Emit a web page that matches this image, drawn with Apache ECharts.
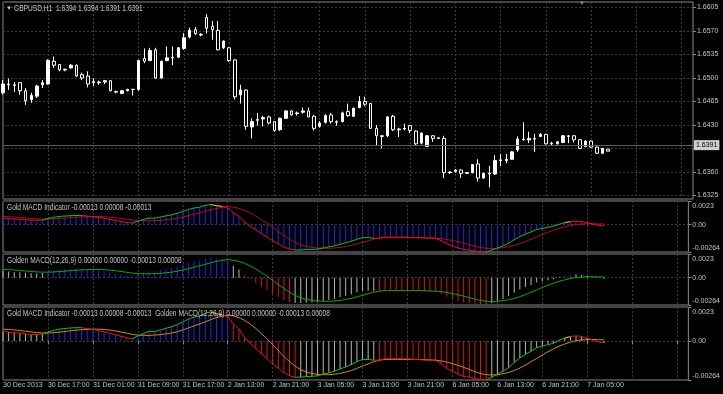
<!DOCTYPE html>
<html><head><meta charset="utf-8">
<script src="https://cdn.jsdelivr.net/npm/echarts@6/dist/echarts.min.js"></script>
<style>html,body{margin:0;padding:0;background:#000;}#c{width:723px;height:394px;}</style>
</head><body><div id="c"></div><script>
// ---------- data ----------
const timeLabels = ['30 Dec 2013','30 Dec 17:00','31 Dec 01:00','31 Dec 09:00','31 Dec 17:00','2 Jan 13:00','2 Jan 21:00','3 Jan 05:00','3 Jan 13:00','3 Jan 21:00','6 Jan 05:00','6 Jan 13:00','6 Jan 21:00','7 Jan 05:00'];
const priceTicks = [1.6325,1.6360,1.6395,1.6430,1.6465,1.6500,1.6535,1.6570,1.6605];
const indTicks = [-0.00264, 0, 0.0023];
const indTickLabels = ['-0.00264','0.00','0.0023'];
const lastPrice = 1.6391;
const mainTitle = 'GBPUSD,H1  1.6394 1.6394 1.6391 1.6391';
const panelTitles = ['Gold MACD Indicator -0.00013 0.00008 -0.00013',
  'Golden MACD(12,26,9) 0.00000 0.00000 -0.00013 0.00008',
  'Gold MACD Indicator -0.00013 0.00008 -0.00013  Golden MACD(12,26,9) 0.00000 0.00000 -0.00013 0.00008'];

const openP = [1.6478,1.6490,1.6490,1.6493,1.6481,1.6468,1.6473,1.6490,1.6491,1.6525,
1.6520,1.6512,1.6515,1.6519,1.6505,1.6503,1.6495,1.6493,1.6494,1.6496,
1.6480,1.6477,1.6481,1.6483,1.6483,1.6529,1.6526,1.6542,1.6500,1.6526,
1.6530,1.6531,1.6544,1.6561,1.6572,1.6565,1.6590,1.6577,1.6571,1.6545,
1.6545,1.6527,1.6475,1.6482,1.6427,1.6437,1.6439,1.6442,1.6435,1.6423,
1.6440,1.6451,1.6447,1.6449,1.6451,1.6443,1.6428,1.6434,1.6445,1.6435,
1.6435,1.6450,1.6443,1.6456,1.6465,1.6462,1.6425,1.6414,1.6414,1.6443,
1.6423,1.6424,1.6429,1.6421,1.6403,1.6398,1.6414,1.6411,1.6410,1.6359,
1.6361,1.6363,1.6358,1.6359,1.6372,1.6351,1.6358,1.6357,1.6377,1.6377,
1.6379,1.6393,1.6409,1.6408,1.6410,1.6413,1.6416,1.6402,1.6402,1.6404,
1.6414,1.6414,1.6408,1.6398,1.6406,1.6397,1.6388,1.6394];
const highP = [1.6497,1.6499,1.6494,1.6494,1.6485,1.6478,1.6490,1.6497,1.6528,1.6532,
1.6521,1.6514,1.6521,1.6520,1.6508,1.6510,1.6500,1.6496,1.6497,1.6497,
1.6481,1.6482,1.6484,1.6484,1.6527,1.6544,1.6545,1.6545,1.6526,1.6547,
1.6547,1.6546,1.6567,1.6575,1.6576,1.6567,1.6595,1.6585,1.6585,1.6556,
1.6546,1.6528,1.6490,1.6483,1.6440,1.6448,1.6444,1.6444,1.6436,1.6441,
1.6452,1.6452,1.6450,1.6456,1.6456,1.6445,1.6436,1.6446,1.6448,1.6437,
1.6450,1.6462,1.6456,1.6473,1.6472,1.6463,1.6430,1.6415,1.6443,1.6445,
1.6426,1.6432,1.6430,1.6422,1.6419,1.6415,1.6415,1.6412,1.6414,1.6361,
1.6364,1.6364,1.6360,1.6372,1.6379,1.6359,1.6369,1.6385,1.6387,1.6387,
1.6391,1.6413,1.6434,1.6420,1.6417,1.6418,1.6417,1.6405,1.6406,1.6415,
1.6415,1.6415,1.6409,1.6407,1.6407,1.6398,1.6396,1.6394];
const lowP = [1.6475,1.6482,1.6479,1.6475,1.6460,1.6463,1.6470,1.6485,1.6490,1.6515,
1.6510,1.6510,1.6514,1.6502,1.6497,1.6486,1.6488,1.6490,1.6491,1.6480,
1.6477,1.6476,1.6480,1.6474,1.6481,1.6522,1.6525,1.6499,1.6499,1.6525,
1.6519,1.6530,1.6542,1.6559,1.6564,1.6562,1.6566,1.6557,1.6541,1.6543,
1.6524,1.6468,1.6462,1.6423,1.6410,1.6429,1.6428,1.6431,1.6420,1.6421,
1.6439,1.6444,1.6444,1.6447,1.6442,1.6422,1.6426,1.6432,1.6432,1.6429,
1.6434,1.6442,1.6442,1.6455,1.6458,1.6424,1.6400,1.6395,1.6412,1.6421,
1.6412,1.6422,1.6418,1.6400,1.6401,1.6397,1.6405,1.6409,1.6351,1.6357,
1.6359,1.6351,1.6357,1.6358,1.6346,1.6350,1.6337,1.6356,1.6369,1.6373,
1.6378,1.6390,1.6407,1.6403,1.6390,1.6412,1.6401,1.6399,1.6401,1.6403,
1.6403,1.6404,1.6394,1.6397,1.6396,1.6387,1.6387,1.6391];
const closeP = [1.6491,1.6491,1.6489,1.6481,1.6466,1.6474,1.6488,1.6493,1.6526,1.6519,
1.6512,1.6513,1.6519,1.6503,1.6500,1.6491,1.6493,1.6494,1.6496,1.6481,
1.6479,1.6481,1.6483,1.6483,1.6526,1.6525,1.6541,1.6500,1.6525,1.6530,
1.6531,1.6545,1.6560,1.6571,1.6566,1.6564,1.6574,1.6572,1.6542,1.6555,
1.6526,1.6472,1.6482,1.6428,1.6435,1.6438,1.6441,1.6433,1.6422,1.6440,
1.6451,1.6445,1.6448,1.6451,1.6442,1.6425,1.6433,1.6444,1.6435,1.6434,
1.6448,1.6444,1.6455,1.6465,1.6461,1.6425,1.6414,1.6413,1.6442,1.6423,
1.6424,1.6425,1.6422,1.6402,1.6418,1.6414,1.6410,1.6410,1.6359,1.6360,
1.6363,1.6358,1.6359,1.6371,1.6351,1.6358,1.6357,1.6377,1.6378,1.6379,
1.6390,1.6409,1.6408,1.6410,1.6409,1.6416,1.6402,1.6403,1.6405,1.6414,
1.6413,1.6408,1.6395,1.6406,1.6397,1.6388,1.6395,1.6391];

const macd = [0.00065,0.00060,0.00056,0.00053,0.00048,0.00044,0.00044,0.00046,0.00060,0.00072,
0.00080,0.00084,0.00088,0.00090,0.00090,0.00084,0.00078,0.00070,0.00063,0.00053,
0.00042,0.00032,0.00023,0.00015,0.00035,0.00050,0.00066,0.00063,0.00075,0.00086,
0.00096,0.00110,0.00128,0.00148,0.00162,0.00170,0.00188,0.00196,0.00184,0.00178,
0.00165,0.00115,0.00080,0.00025,-0.00015,-0.00050,-0.00085,-0.00120,-0.00155,-0.00185,
-0.00215,-0.00235,-0.00245,-0.00245,-0.00240,-0.00240,-0.00235,-0.00225,-0.00215,-0.00205,
-0.00190,-0.00175,-0.00160,-0.00140,-0.00125,-0.00125,-0.00130,-0.00130,-0.00120,-0.00120,
-0.00120,-0.00120,-0.00120,-0.00125,-0.00125,-0.00130,-0.00130,-0.00130,-0.00155,-0.00185,
-0.00205,-0.00225,-0.00240,-0.00245,-0.00255,-0.00260,-0.00264,-0.00245,-0.00225,-0.00205,
-0.00180,-0.00145,-0.00115,-0.00090,-0.00070,-0.00045,-0.00035,-0.00025,-0.00015,0.00005,
0.00020,0.00030,0.00035,0.00030,0.00020,0.00005,-0.00005,-0.00013];
const signal = [0.00080,0.00078,0.00075,0.00071,0.00066,0.00061,0.00057,0.00054,0.00054,0.00056,
0.00060,0.00064,0.00069,0.00073,0.00076,0.00078,0.00080,0.00080,0.00078,0.00074,
0.00068,0.00061,0.00053,0.00045,0.00040,0.00038,0.00038,0.00040,0.00043,0.00048,
0.00054,0.00063,0.00074,0.00088,0.00102,0.00115,0.00130,0.00145,0.00158,0.00168,
0.00176,0.00170,0.00158,0.00140,0.00115,0.00085,0.00050,0.00015,-0.00025,-0.00065,
-0.00105,-0.00140,-0.00170,-0.00195,-0.00210,-0.00220,-0.00225,-0.00228,-0.00228,-0.00225,
-0.00220,-0.00210,-0.00200,-0.00185,-0.00170,-0.00155,-0.00140,-0.00130,-0.00125,-0.00125,
-0.00125,-0.00125,-0.00125,-0.00125,-0.00125,-0.00126,-0.00128,-0.00130,-0.00135,-0.00143,
-0.00153,-0.00165,-0.00178,-0.00193,-0.00208,-0.00220,-0.00228,-0.00230,-0.00228,-0.00222,
-0.00213,-0.00200,-0.00183,-0.00163,-0.00140,-0.00118,-0.00095,-0.00073,-0.00053,-0.00035,
-0.00020,-0.00008,0.00002,0.00007,0.00010,0.00010,0.00009,0.00008];

// colour runs: [code, number of bars]
const hist3Runs = [['w',8],['b',33],['w',2],['r',9],['w',15],['r',20],['w',13],['b',2],['w',6]];
const hist4Runs = [['w',8],['b',33],['r',12],['w',14],['r',20],['w',21]];
const macdLineRuns = [['r',8],['g',7],['r',9],['g',14],['y',2],['r',13],['g',14],['r',20],['g',14],['y',1],['r',6]];

// ---------- styling ----------
const FONT = "'Liberation Sans',Arial,sans-serif";
const AXFS = 7;
const TXT = '#c4c4c4';
const BORDER = '#8a8a8a';
const GRIDLINE = '#3e3e3e';
const histPalette = {w:'#b8b8b8', b:'#2626e6', r:'#d81818'};
const linePalette = {g:'#1fb81f', r:'#e81414', y:'#e6e600'};
const N = 123;
const cats = Array.from({length:N}, (_, i) => String(i));

function expand(runs){ const out=[]; runs.forEach(([c,n])=>{for(let k=0;k<n;k++) out.push(c);}); return out; }
function pieces(runs){ const p=[]; let s=0; runs.forEach(([c,n])=>{ p.push({gt:s-1, lte:s+n-1, color:linePalette[c]}); s+=n; }); return p; }
const hist3 = expand(hist3Runs), hist4 = expand(hist4Runs);
const candles = openP.map((o,i)=>[o, closeP[i], lowP[i], highP[i]]);

const gridDefs = [{top:2,height:197},{top:201,height:51},{top:254,height:51},{top:307,height:73}];
const grid = gridDefs.map(g=>({left:3, right:30, top:g.top, height:g.height, show:true, borderColor:BORDER, borderWidth:1, backgroundColor:'transparent'}));

const labelBase = {align:'left', margin:2, color:TXT, fontSize:AXFS, fontFamily:FONT};
const xAxis = gridDefs.map((g,k)=>({
  type:'category', gridIndex:k, data:cats, boundaryGap:false,
  axisLine:{show:false},
  axisTick:{show:k===3, interval:7, length:3, lineStyle:{color:BORDER}},
  axisLabel:Object.assign({show:k===3, interval:7, showMinLabel:false,
    formatter:(v,idx)=> (idx%8===0 && timeLabels[idx/8]) || ''}, labelBase),
  splitLine:{show:true, interval:7, lineStyle:{color:GRIDLINE, type:[2,2], width:1}}
}));
// extra label-only axis on the bottom panel for the first time label
xAxis.push({type:'category', gridIndex:3, data:cats, boundaryGap:false, position:'bottom',
  axisLine:{show:false}, axisTick:{show:false}, splitLine:{show:false},
  axisLabel:Object.assign({interval:(idx)=>idx===0, formatter:(v,idx)=> idx===0 ? timeLabels[0] : ''}, labelBase)});

function indAxis(k, h){
  const span = indTicks[2]-indTicks[0];
  const up = span/h*5, dn = span/h*4;
  return {type:'value', gridIndex:k, position:'right', min:indTicks[0], max:indTicks[2],
    axisLine:{show:false},
    axisTick:{show:true, length:3, customValues:indTicks, lineStyle:{color:BORDER}},
    axisLabel:{customValues:[indTicks[0]+dn, 0, indTicks[2]-up], margin:4, color:TXT, fontSize:AXFS, fontFamily:FONT,
      formatter:v=> v>0.0001 ? indTickLabels[2] : (v< -0.0001 ? indTickLabels[0] : indTickLabels[1])},
    splitLine:{show:true, lineStyle:{color:GRIDLINE, type:[2,2]}}};
}
const yAxis = [
  {type:'value', gridIndex:0, position:'right', min:1.63198, max:1.66132,
   axisLine:{show:false},
   axisTick:{show:true, length:3, customValues:priceTicks, lineStyle:{color:BORDER}},
   axisLabel:{customValues:priceTicks, margin:4, color:TXT, fontSize:AXFS, fontFamily:FONT, formatter:v=>v.toFixed(4)},
   splitLine:{show:true, lineStyle:{color:GRIDLINE, type:[2,2]}}},
  indAxis(1,51), indAxis(2,51), indAxis(3,73)
];

function txt(text, x, y, opts){
  return Object.assign({type:'text', x, y, scaleX:0.78, silent:true, z:10,
    style:{text, fill:TXT, font:'8.5px '+FONT, align:'left', verticalAlign:'middle', textAlign:'left', textVerticalAlign:'middle'}}, opts||{});
}
const option = {
  backgroundColor:'#000',
  animation:false,
  graphic:[
    txt('▼', 6, 8.5, {scaleX:1, style:{text:'▼', fill:TXT, font:'6px '+FONT, verticalAlign:'middle', textVerticalAlign:'middle'}}),
    txt(mainTitle, 14, 8.5),
    txt('▼', 579, 3, {scaleX:1, style:{text:'▼', fill:'#8a8a8a', font:'6px '+FONT, verticalAlign:'middle', textVerticalAlign:'middle'}}),
    txt(panelTitles[0], 7, 207.5),
    txt(panelTitles[1], 7, 260.5),
    txt(panelTitles[2], 7, 314)
  ],
  grid, xAxis, yAxis,
  visualMap:[
    {show:false, type:'piecewise', seriesIndex:3, dimension:0, pieces:pieces(macdLineRuns)},
    {show:false, type:'piecewise', seriesIndex:8, dimension:0, pieces:pieces(macdLineRuns)}
  ],
  series:[
    {type:'candlestick', xAxisIndex:0, yAxisIndex:0, data:candles, barWidth:3,
     itemStyle:{color:'#ffffff', color0:'#000000', borderColor:'#ffffff', borderColor0:'#ffffff', borderWidth:1},
     markLine:{silent:true, symbol:'none', animation:false,
       data:[{yAxis:lastPrice}],
       lineStyle:{color:'#5e5e5e', type:'solid', width:1},
       label:{position:'end', distance:1, formatter:lastPrice.toFixed(4), backgroundColor:'#cfcfcf', color:'#000', fontSize:AXFS, fontFamily:FONT, padding:[2,2,1,2]}}},
    {type:'bar', xAxisIndex:1, yAxisIndex:1, data:macd, barWidth:1, itemStyle:{color:histPalette.b}},
    {type:'line', xAxisIndex:1, yAxisIndex:1, data:signal, showSymbol:false, lineStyle:{color:'#a8101c', width:1}},
    {type:'line', xAxisIndex:1, yAxisIndex:1, data:macd, showSymbol:false, lineStyle:{width:1}},
    {type:'bar', xAxisIndex:2, yAxisIndex:2, barWidth:1, data:macd.map((v,i)=>({value:v, itemStyle:{color:histPalette[hist3[i]]}}))},
    {type:'line', xAxisIndex:2, yAxisIndex:2, data:signal, showSymbol:false, lineStyle:{color:'#12a512', width:1}},
    {type:'bar', xAxisIndex:3, yAxisIndex:3, barWidth:1, data:macd.map((v,i)=>({value:v, itemStyle:{color:histPalette[hist4[i]]}}))},
    {type:'line', xAxisIndex:3, yAxisIndex:3, data:signal, showSymbol:false, lineStyle:{color:'#c88c1e', width:1}},
    {type:'line', xAxisIndex:3, yAxisIndex:3, data:macd, showSymbol:false, lineStyle:{width:1}}
  ]
};
const chart = echarts.init(document.getElementById('c'), null, {renderer:'canvas'});
chart.setOption(option);
</script></body></html>
